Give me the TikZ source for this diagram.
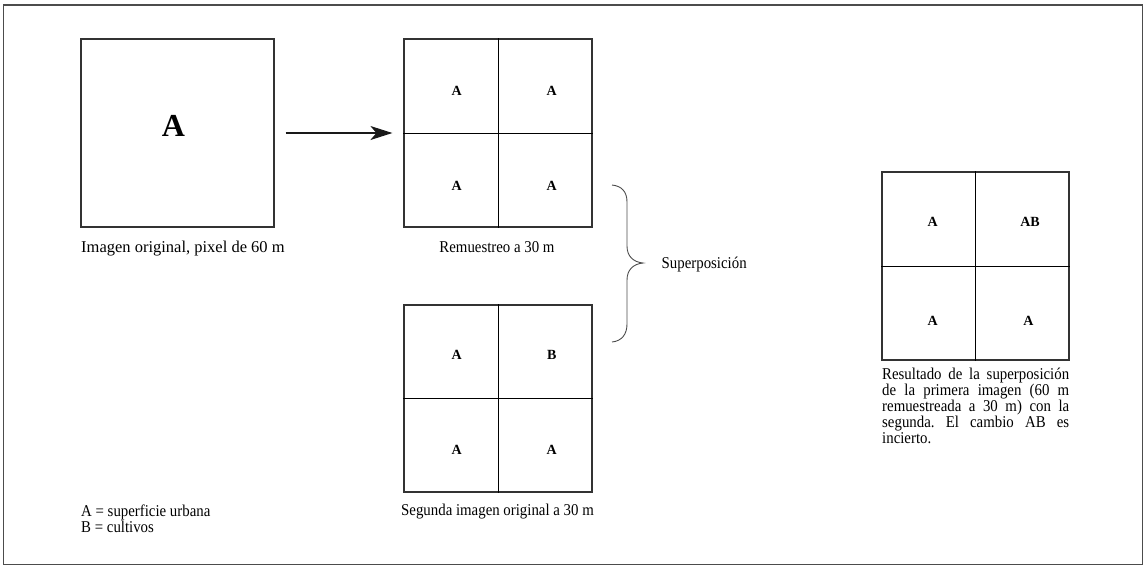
\documentclass[tikz,border=0pt]{standalone}
\usepackage{fontspec}
\setmainfont{Liberation Serif}[FakeStretch=0.9]
\newfontfamily\plainserif{Liberation Serif}
\usetikzlibrary{arrows.meta}
\frenchspacing
\tikzset{
  outerframe/.style={draw=black!70,line width=1.5pt},
  pixbox/.style={draw=black!80,line width=1.2pt,inner sep=0pt},
  gridline/.style={draw=black,line width=0.9pt},
  bigletter/.style={font=\plainserif\fontsize{32}{32}\selectfont\bfseries,inner sep=0pt},
  cellletter/.style={font=\plainserif\fontsize{14}{14}\selectfont\bfseries,inner sep=0pt},
  capt/.style={font=\fontsize{16.5}{16}\selectfont,inner sep=0pt},
  mainarrow/.style={draw=black!90,line width=1.2pt,-{Stealth[length=22pt,width=14pt,inset=6pt]},shorten <=11pt,shorten >=11pt},
  bracestyle/.style={draw=black!70,line width=0.9pt}
}
\begin{document}
\begin{tikzpicture}[x=1pt,y=-1pt]
\useasboundingbox (0,0) rectangle (1145,566);
\draw[outerframe] (3.5,5) rectangle (1142.5,564.5);

% original image
\node[pixbox,minimum width=193pt,minimum height=188pt] (b1) at (177.5,133) {};
\node[bigletter] (b1a) at (173.5,126) {A};
\node[capt,font=\plainserif\fontsize{16.5}{16}\selectfont,anchor=base west] (c1) at (81,252) {Imagen original, pixel de 60 m};

% resampled
\node[pixbox,minimum width=188pt,minimum height=188pt] (b2) at (498,133) {};
\draw[gridline] (b2.north) -- (b2.south);
\draw[gridline] (b2.west) -- (b2.east);
\node[cellletter] (b2a) at (456.7,91) {A};
\node[cellletter] (b2b) at (551.7,91) {A};
\node[cellletter] (b2c) at (456.7,185.5) {A};
\node[cellletter] (b2d) at (551.7,185.5) {A};
\node[capt,anchor=base] (c2) at (497,252.5) {Remuestreo a 30 m};

\draw[mainarrow] (b1.east) -- (b2.west);

% second image
\node[pixbox,minimum width=188pt,minimum height=187pt] (b3) at (498,398.5) {};
\draw[gridline] (b3.north) -- (b3.south);
\draw[gridline] (b3.west) -- (b3.east);
\node[cellletter] (b3a) at (456.7,355) {A};
\node[cellletter] (b3b) at (551.7,355) {B};
\node[cellletter] (b3c) at (456.7,450) {A};
\node[cellletter] (b3d) at (551.7,450) {A};
\node[capt,anchor=base] (c3) at (497.5,515) {Segunda imagen original a 30 m};

% brace
\coordinate (brtop) at (612,185);
\coordinate (brtip) at (643,263);
\coordinate (brbot) at (612,342);
\draw[bracestyle] (brtop) .. controls (622,186) and (627,192) .. (627,202) -- (627,246)
  .. controls (627,256) and (633,262) .. (brtip)
  .. controls (633,264) and (627,270) .. (627,280) -- (627,324)
  .. controls (627,334) and (622,341) .. (brbot);
\node[capt,anchor=base west] (sup) at (661.5,268) {Superposición};

% result
\node[pixbox,minimum width=187pt,minimum height=188pt] (b4) at (975.5,266) {};
\draw[gridline] (b4.north) -- (b4.south);
\draw[gridline] (b4.west) -- (b4.east);
\node[cellletter] (b4a) at (932.7,221.7) {A};
\node[cellletter] (b4b) at (1030,221.7) {AB};
\node[cellletter] (b4c) at (932.7,321) {A};
\node[cellletter] (b4d) at (1028.3,321) {A};
\node[capt,anchor=north west,text width=187pt,align=justify] (c4) at (882,368)
 {Resultado de la superposición\linebreak de la primera imagen (60 m\linebreak remuestreada a 30 m) con la\linebreak segunda. El cambio AB es\linebreak incierto.};

% legend
\node[capt,anchor=base west] (leg1) at (81,516) {A = superficie urbana};
\node[capt,anchor=base west] (leg2) at (81,532) {B = cultivos};
\end{tikzpicture}
\end{document}
